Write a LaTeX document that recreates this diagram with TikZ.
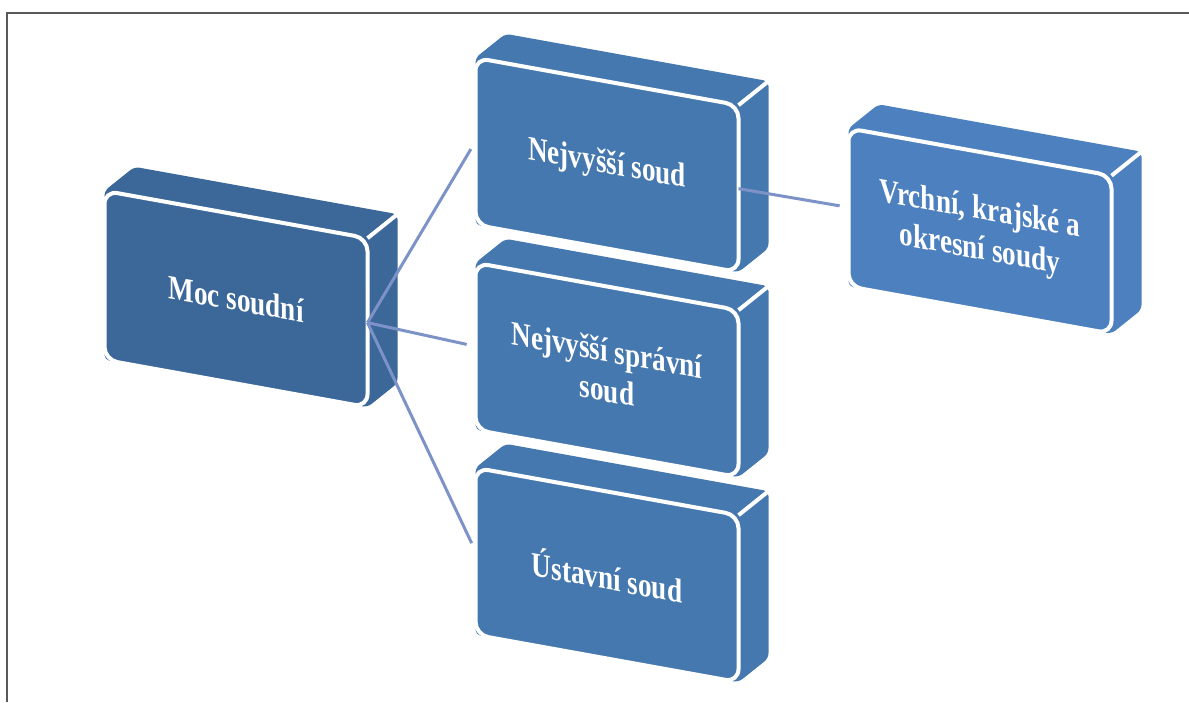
\documentclass[tikz,border=0pt]{standalone}
\usepackage{fontspec}
\usepackage{tikz}
\usetikzlibrary{calc,backgrounds}
\newfontfamily\courtfont[FakeStretch=0.8]{Liberation Serif}
\definecolor{courtdark}{RGB}{59,103,153}
\definecolor{courtmid}{RGB}{70,120,176}
\definecolor{courtlight}{RGB}{77,128,191}
\definecolor{linkblue}{RGB}{125,147,200}
\def\dep{30,24}

\tikzset{
  court/.style={fill=#1, draw=white, line width=4pt, outer sep=0pt,
    rounded corners=13pt, yslant=-0.18, minimum width=263pt,
    minimum height=167pt, inner sep=0pt, text=white, align=center,
    font=\courtfont\bfseries\fontsize{34}{40}\selectfont},
  link/.style={linkblue, line width=3pt, shorten >=9pt}
}

\begin{document}
\begin{tikzpicture}[x=1pt, y=1pt]
\useasboundingbox (0,0) rectangle (1189,702);
\draw[black!65, line width=1.5pt] (1189,689) -- (7,689) -- (7,0);

% front faces
\node[court=courtdark, minimum height=169pt] (moc) at (236,403) {Moc soudní};
\node[court=courtmid] (ns) at (607,537) {Nejvyšší soud};
\node[court=courtmid] (nss) at (607,332) {Nejvyšší správní\\soud};
\node[court=courtmid] (us) at (607,127) {Ústavní soud};
\node[court=courtlight, minimum height=158pt] (vks) at (980,471) {Vrchní, krajské a\\okresní soudy};

% top and side faces
\begin{scope}[on background layer]
\foreach \n/\c in {moc/courtdark, ns/courtmid, nss/courtmid, us/courtmid, vks/courtlight}{
  \fill[\c, rounded corners=5pt] (\n.south west) -- (\n.north west) -- ++(\dep)
    -- ($(\n.north east)+(\dep)$) -- ($(\n.south east)+(\dep)$) -- (\n.south east) -- cycle;
  \draw[white, line width=4pt] (\n.north east) -- ++(\dep);
}
\end{scope}

\foreach \t in {ns, nss, us}{
  \draw[link] (moc.east) -- (\t.west);
}
\draw[link] (ns.east) -- (vks.west);
\end{tikzpicture}
\end{document}
